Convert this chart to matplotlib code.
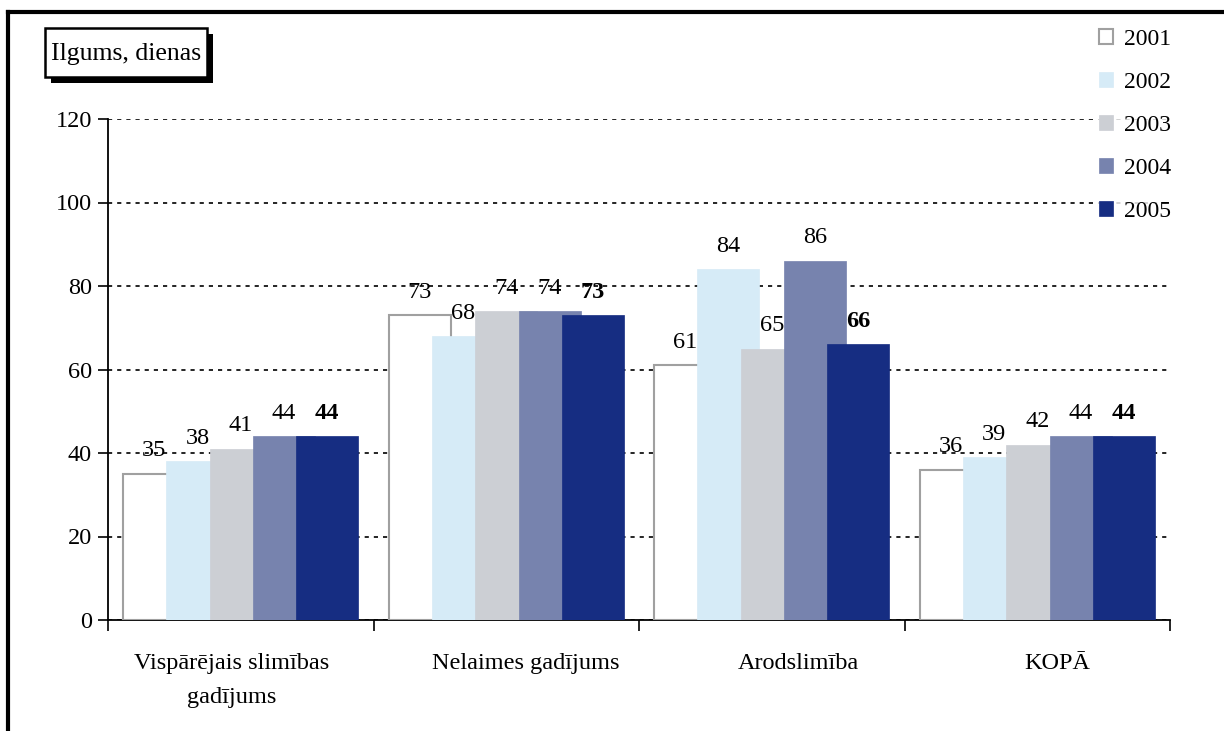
import matplotlib
matplotlib.use('Agg')
import matplotlib.pyplot as plt
import matplotlib.patches as mpatches
import numpy as np

categories = ["Vispārējais slimības\ngadījums", "Nelaimes gadījums", "Arodslimība", "KOPĀ"]
years = ["2001", "2002", "2003", "2004", "2005"]
values = {
    "2001": [35, 73, 61, 36],
    "2002": [38, 68, 84, 39],
    "2003": [41, 74, 65, 42],
    "2004": [44, 74, 86, 44],
    "2005": [44, 73, 66, 44],
}
yticks = [0, 20, 40, 60, 80, 100, 120]

colors = ["#ffffff", "#d6ebf7", "#cccfd4", "#7783ae", "#162d82"]
edges = ["#a0a0a0", "#d6ebf7", "#cccfd4", "#7783ae", "#162d82"]
label_shift = [-0.035, 0.075, 0.1, 0.075]   # category labels sit a bit off-centre

plt.rcParams['font.family'] = ['Liberation Serif', 'DejaVu Serif']

W, H = 1224, 731
fig = plt.figure(figsize=(W / 100, H / 100), dpi=100)
ax = fig.add_axes([108/W, 1 - 620/H, (1170-108)/W, (620-119)/H])

x = np.arange(len(categories))
step = 0.163
width = 0.2335
for i, yr in enumerate(years):
    pos = x + (i - 2) * step
    ax.bar(pos, values[yr], width=width, color=colors[i], edgecolor=edges[i],
           linewidth=1.5 if i == 0 else 0.5, zorder=3 + i, label=yr)
    for px, v in zip(pos, values[yr]):
        ax.annotate(str(v), (px, v), xytext=(0, 9), textcoords='offset points',
                    ha='center', va='bottom', fontsize=17.5,
                    fontweight='bold' if i == 4 else 'normal', zorder=10)

ax.set_xlim(-0.5, len(categories) - 0.5)
ax.set_ylim(0, 120)
ax.set_yticks(yticks)
ax.set_yticklabels([str(t) for t in yticks], fontsize=17.5)
ax.yaxis.grid(True, color='black', linestyle=(0, (2.5, 3)), linewidth=1.2, zorder=0)
ax.set_axisbelow(True)

ax.set_xticks(np.arange(len(categories) + 1) - 0.5)
ax.set_xticklabels([])
ax.tick_params(axis='x', direction='out', length=8, width=1.2)
ax.tick_params(axis='y', direction='out', length=7, width=1.2, pad=4.5)
for i, c in enumerate(categories):
    ax.text(i + label_shift[i], -0.065, c, transform=ax.get_xaxis_transform(),
            ha='center', va='top', fontsize=17.5, linespacing=1.85)

for s in ['top', 'right']:
    ax.spines[s].set_visible(False)
for s in ['left', 'bottom']:
    ax.spines[s].set_linewidth(1.3)

handles = [mpatches.Patch(facecolor=colors[i], edgecolor=edges[i],
                          linewidth=1.5 if i == 0 else 0.5, label=yr)
           for i, yr in enumerate(years)]
leg = fig.legend(handles=handles, loc='upper left', bbox_to_anchor=(1094/W, 1 - 24/H),
                 frameon=True, fontsize=17, handlelength=0.6, handleheight=0.6,
                 handletextpad=0.45, labelspacing=0.93, borderpad=0.2, borderaxespad=0)
leg.get_frame().set_edgecolor('white')
leg.get_frame().set_facecolor('white')
leg.set_zorder(20)

# axis title in a box with a drop shadow
bx0, by0, bx1, by1, sh = 45, 28, 207, 77, 6
fig.patches.append(mpatches.Rectangle((bx0 + sh) / W * np.array([1, 0]) + np.array([0, 1 - (by1 + sh) / H]),
                                      (bx1 - bx0) / W, (by1 - by0) / H, transform=fig.transFigure,
                                      facecolor='black', edgecolor='none', zorder=1))
fig.patches.append(mpatches.Rectangle((bx0 / W, 1 - by1 / H), (bx1 - bx0) / W, (by1 - by0) / H,
                                      transform=fig.transFigure, facecolor='white',
                                      edgecolor='black', linewidth=1.8, zorder=2))
fig.text((bx0 + bx1) / 2 / W, 1 - 54 / H, "Ilgums, dienas", fontsize=18.5,
         ha='center', va='center', zorder=3)

# outer frame
fig.add_artist(plt.Line2D([8/W, 1], [1 - 12/H, 1 - 12/H], color='black', linewidth=3,
                          transform=fig.transFigure))
fig.add_artist(plt.Line2D([8/W, 8/W], [0, 1 - 12/H], color='black', linewidth=3,
                          transform=fig.transFigure))

plt.savefig("out.png")
